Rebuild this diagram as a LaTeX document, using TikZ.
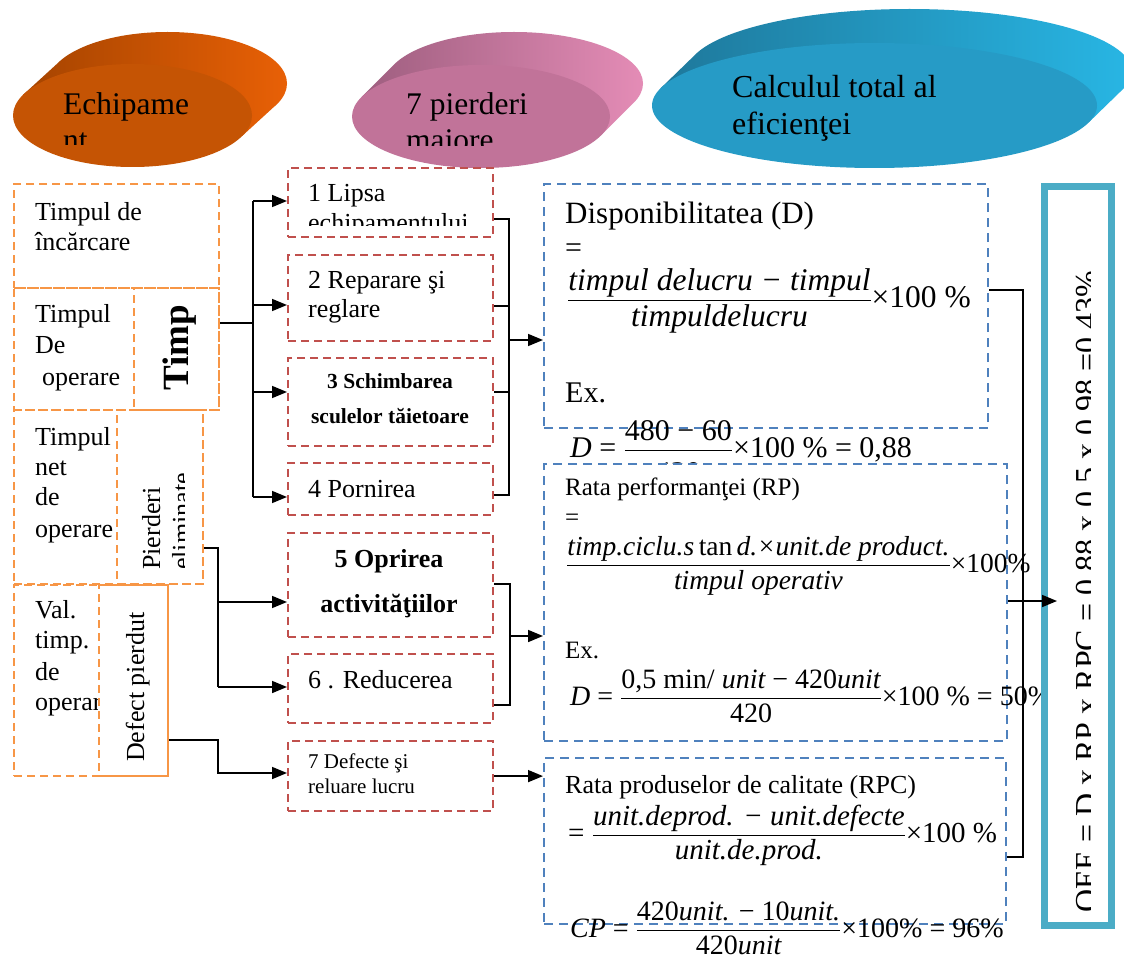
\documentclass[tikz,border=0pt]{standalone}
\usepackage{amsmath}
\usepackage{fontspec}
\setmainfont{Liberation Serif}
\usetikzlibrary{arrows.meta}
\definecolor{orgF}{RGB}{197,84,4}
\definecolor{orgD}{RGB}{165,68,0}
\definecolor{orgL}{RGB}{232,96,6}
\definecolor{pnkF}{RGB}{193,115,153}
\definecolor{pnkD}{RGB}{158,94,127}
\definecolor{pnkL}{RGB}{228,140,182}
\definecolor{bluF}{RGB}{38,155,198}
\definecolor{bluD}{RGB}{30,120,155}
\definecolor{bluL}{RGB}{40,182,228}
\definecolor{dOrange}{RGB}{247,150,70}
\definecolor{dRed}{RGB}{192,80,77}
\definecolor{dBlue}{RGB}{79,129,189}
\definecolor{oeeC}{RGB}{75,172,198}
\newcommand{\fsz}[2]{\fontsize{#1}{#2}\selectfont}
\begin{document}
\begin{tikzpicture}[x=1pt,y=-1pt,
 txt/.style={inner sep=0pt, anchor=base west},
 ctxt/.style={inner sep=0pt, anchor=base},
 bx/.style={inner sep=0pt, anchor=north west, line width=2.2pt},
 ob/.style={bx, draw=dOrange, dash pattern=on 8pt off 5pt},
 rb/.style={bx, draw=dRed, dash pattern=on 8pt off 5pt},
 bb/.style={bx, draw=dBlue, fill=white, dash pattern=on 9pt off 6pt},
 sz/.style 2 args={minimum width=#1, minimum height=#2},
 conn/.style={draw=black, line width=1.6pt},
 arr/.style={conn, -{Triangle[length=15pt,width=12pt]}},
]
\fill[white] (0,0) rectangle (1124,960);
\useasboundingbox (0,0) rectangle (1124,960);

% ---- 3D ellipses ----
\shade[left color=orgD, right color=orgL] (167.5,83.5) ellipse [x radius=119.5pt, y radius=51.5pt]
  (242.2,135.9) -- (277.2,103.9) -- (57.8,63.1) -- (22.8,95.1) -- cycle;
\fill[orgF] (132.5,115.5) ellipse [x radius=119.5pt, y radius=51.5pt];
\shade[left color=pnkD, right color=pnkL] (514,83.5) ellipse [x radius=129pt, y radius=51.5pt]
  (600.8,135.6) -- (633.8,102.6) -- (394.2,64.4) -- (361.2,97.4) -- cycle;
\fill[pnkF] (481,116.5) ellipse [x radius=129pt, y radius=51.5pt];
\shade[left color=bluD, right color=bluL] (909.5,71.5) ellipse [x radius=222.5pt, y radius=62.5pt]
  (1088.7,122.4) -- (1123.7,88.4) -- (695.3,54.6) -- (660.3,88.6) -- cycle;
\fill[bluF] (874.5,105.5) ellipse [x radius=222.5pt, y radius=62.5pt];

\begin{scope}
\clip (20,60) rectangle (250,145);
\node[txt, font=\fsz{31.5}{36}] (e1a) at (63,115) {Echipame};
\node[txt, font=\fsz{31.5}{36}] (e1b) at (63,151) {nt};
\end{scope}
\begin{scope}
\clip (360,60) rectangle (600,146);
\node[txt, font=\fsz{31.5}{36}] (e2a) at (406,115) {7 pierderi};
\node[txt, font=\fsz{31.5}{36}] (e2b) at (406,151) {majore};
\end{scope}
\node[txt, font=\fsz{32}{37}] (e3a) at (732,98) {Calculul total al};
\node[txt, font=\fsz{32}{37}] (e3b) at (732,135) {eficienţei};

% ---- left orange boxes ----
\node[ob, sz={205pt}{104pt}] (bA) at (13,183) {};
\node[ob, sz={205pt}{122pt}] (bB) at (13,287) {};
\node[ob, sz={85pt}{122pt}] (bBi) at (133,287) {};
\node[ob, sz={189pt}{174pt}] (bC) at (13,409) {};
\node[ob, sz={86pt}{174pt}] (bCi) at (116,409) {};
\node[ob, sz={154pt}{191pt}] (bD) at (13,584) {};
\node[ob, sz={69pt}{191pt}] (bDi) at (98,584) {};

\begin{scope}[every node/.style={font=\fsz{26}{30}}]
\node[txt] (tA1) at (35,220) {Timpul de};
\node[txt] (tA2) at (35,250) {încărcare};
\node[txt] (tB1) at (35,322) {Timpul};
\node[txt] (tB2) at (35,353) {De};
\node[txt] (tB3) at (42,385) {operare};
\node[txt] (tC1) at (35,445) {Timpul};
\node[txt] (tC2) at (35,475) {net};
\node[txt] (tC3) at (35,505) {de};
\node[txt] (tC4) at (35,537) {operare};
\node[txt] (tD1) at (35,618) {Val.};
\node[txt] (tD2) at (35,648) {timp.};
\node[txt] (tD3) at (35,680) {de};
\end{scope}
\begin{scope}
\clip (15,586) rectangle (97,773);
\node[txt, font=\fsz{26}{30}] (tD4) at (35,710) {operare};
\end{scope}
\node[ctxt, rotate=90, font=\fsz{37}{42}\bfseries] (tTimp) at (188,348) {Timp};
\node[txt, rotate=90, font=\fsz{26}{30}] (tPi1) at (160,570) {Pierderi};
\begin{scope}
\clip (118,412) rectangle (184,580);
\node[txt, rotate=90, font=\fsz{26}{30}] (tPi2) at (190,570) {eliminate};
\end{scope}
\node[txt, rotate=90, font=\fsz{26}{30}] (tDef) at (144,762) {Defect pierdut};

% ---- middle red boxes ----
\node[rb, sz={205pt}{69pt}] (r1) at (287,167) {};
\node[rb, sz={205pt}{86pt}] (r2) at (287,254) {};
\node[rb, sz={205pt}{88pt}] (r3) at (287,357) {};
\node[rb, sz={205pt}{52pt}] (r4) at (287,462) {};
\node[rb, sz={205pt}{104pt}] (r5) at (287,532) {};
\node[rb, sz={205pt}{69pt}] (r6) at (287,653) {};
\node[rb, sz={205pt}{70pt}] (r7) at (287,740) {};

\node[txt, font=\fsz{26}{30}] (t1a) at (308,202) {1 Lipsa};
\begin{scope}
\clip (290,170) rectangle (486,225);
\node[txt, font=\fsz{26}{30}] (t1b) at (308,231) {echipamentului};
\end{scope}
\node[txt, font=\fsz{26}{30}] (t2a) at (308,288) {2 Reparare şi};
\node[txt, font=\fsz{26}{30}] (t2b) at (308,317) {reglare};
\node[ctxt, font=\fsz{21.5}{26}\bfseries] (t3a) at (390,388) {3 Schimbarea};
\node[ctxt, font=\fsz{21.5}{26}\bfseries] (t3b) at (390,423) {sculelor tăietoare};
\node[txt, font=\fsz{26}{30}] (t4) at (308,497) {4 Pornirea};
\node[ctxt, font=\fsz{26}{30}\bfseries] (t5a) at (389,567) {5 Oprirea};
\node[ctxt, font=\fsz{26}{30}\bfseries] (t5b) at (389,612) {activităţiilor};
\node[txt, font=\fsz{26}{30}] (t6) at (308,688) {6 . Reducerea};
\node[txt, font=\fsz{21}{25}] (t7a) at (308,768) {7 Defecte şi};
\node[txt, font=\fsz{21}{25}] (t7b) at (308,793) {reluare lucru};

% ---- blue boxes ----
\node[bb, sz={444pt}{244pt}] (bDisp) at (543,183) {};
\node[txt, font=\fsz{31}{36}] (dT) at (565,223) {Disponibilitatea (D)};
\node[txt, font=\fsz{30}{36}] (dEq) at (565,257) {=};
\node[txt, font=\fsz{31.5}{36}] (dF) at (567,307)
  {$\dfrac{\text{\itshape timpul delucru − timpul}}{\text{\itshape timpuldelucru}}$×100 \%};
\node[txt, font=\fsz{30}{36}] (dEx) at (565,402) {Ex.};
\node[txt, font=\fsz{30}{36}] (dV) at (570,457)
  {{\itshape D} = $\dfrac{\text{480 − 60}}{\rule{0pt}{28pt}\text{420}}$×100 \% = 0,88};

\node[bb, sz={463pt}{277pt}] (bRP) at (543,463) {};
\node[txt, font=\fsz{25}{30}] (pT) at (565,495) {Rata performanţei (RP)};
\node[txt, font=\fsz{25}{30}] (pEq) at (565,525) {=};
\node[txt, font=\fsz{27.5}{32}] (pF) at (566,572)
  {$\dfrac{\text{\itshape timp.ciclu.s\,}\text{tan}\,\text{\itshape d.×unit.de product.}}{\text{\itshape timpul operativ}}$×100\%};
\node[txt, font=\fsz{25}{30}] (pEx) at (565,658) {Ex.};
\node[txt, font=\fsz{28}{32}] (pV) at (570,705)
  {{\itshape D} = $\dfrac{\text{0,5 min/ \itshape unit\upshape{} − 420\itshape unit}}{\text{420}}$×100 \% = 50\%};

\node[bb, sz={462pt}{166pt}] (bRPC) at (543,757) {};
\node[txt, font=\fsz{26}{30}] (cT) at (565,793) {Rata produselor de calitate (RPC)};
\node[txt, font=\fsz{29}{35}] (cF) at (568,842)
  {= $\dfrac{\text{\itshape unit.deprod. − unit.defecte}}{\text{\itshape unit.de.prod.}}$×100 \%};
\node[txt, font=\fsz{28}{32}] (cV) at (570,937)
  {{\itshape CP} = $\dfrac{\text{420\itshape unit.\upshape{} − 10\itshape unit.}}{\text{420\itshape unit}}$×100\% = 96\%};

% ---- connectors ----
\coordinate (lbTop) at (253,201);
\coordinate (lb2) at (253,305);
\coordinate (lb3) at (253,392);
\coordinate (lbBot) at (253,497);
\coordinate (lbIn) at (253,323);
\draw[conn] (bBi.east |- lbIn) -- (lbIn);
\draw[conn] (lbTop) -- (lbBot);
\draw[arr] (lbTop) -- (lbTop -| r1.west);
\draw[arr] (lb2) -- (lb2 -| r2.west);
\draw[arr] (lb3) -- (lb3 -| r3.west);
\draw[arr] (lbBot) -- (lbBot -| r4.west);

\coordinate (pb0) at (218,548);
\coordinate (pb1) at (218,602);
\coordinate (pb2) at (218,687);
\draw[conn] (bCi.east |- pb0) -- (pb0) -- (pb2);
\draw[arr] (pb1) -- (pb1 -| r5.west);
\draw[arr] (pb2) -- (pb2 -| r6.west);

\coordinate (db0) at (218,740);
\coordinate (db1) at (218,773);
\draw[arr] (bDi.east |- db0) -- (db0) -- (db1) -- (db1 -| r7.west);

\coordinate (rb1) at (509,219);
\coordinate (rb2) at (509,306);
\coordinate (rb3) at (509,392);
\coordinate (rb4) at (509,495);
\coordinate (rbo) at (509,340);
\draw[conn] (r1.east |- rb1) -- (rb1) -- (rb4) -- (r4.east |- rb4);
\draw[conn] (r2.east |- rb2) -- (rb2);
\draw[conn] (r3.east |- rb3) -- (rb3);
\draw[arr] (rbo) -- (rbo -| bDisp.west);

\coordinate (rc1) at (510,584);
\coordinate (rc2) at (510,705);
\coordinate (rco) at (510,636);
\draw[conn] (r5.east |- rc1) -- (rc1) -- (rc2) -- (r6.east |- rc2);
\draw[arr] (rco) -- (rco -| bRP.west);

\draw[arr] (r7.east) -- (r7.east -| bRPC.west);

\coordinate (vr1) at (1023,290);
\coordinate (vr2) at (1023,857);
\coordinate (vro) at (1057,601);
\draw[conn] (bDisp.east |- vr1) -- (vr1) -- (vr2) -- (bRPC.east |- vr2);

% ---- OEE box ----
\node[inner sep=0pt, anchor=north west, draw=oeeC, fill=white, line width=7pt,
  sz={67pt}{738pt}] (oee) at (1040.5,183.5) {};
\begin{scope}
\clip (1044,187) rectangle (1090,918);
\node[txt, rotate=90, font=\fsz{32}{36}] (oeeT) at (1097,913)
  {OEE = D x RP x RPC = 0,88 x 0,5 x 0,98 =0,43\%};
\end{scope}
\draw[arr] (bRP.east |- vro) -- (vro);
\end{tikzpicture}
\end{document}
